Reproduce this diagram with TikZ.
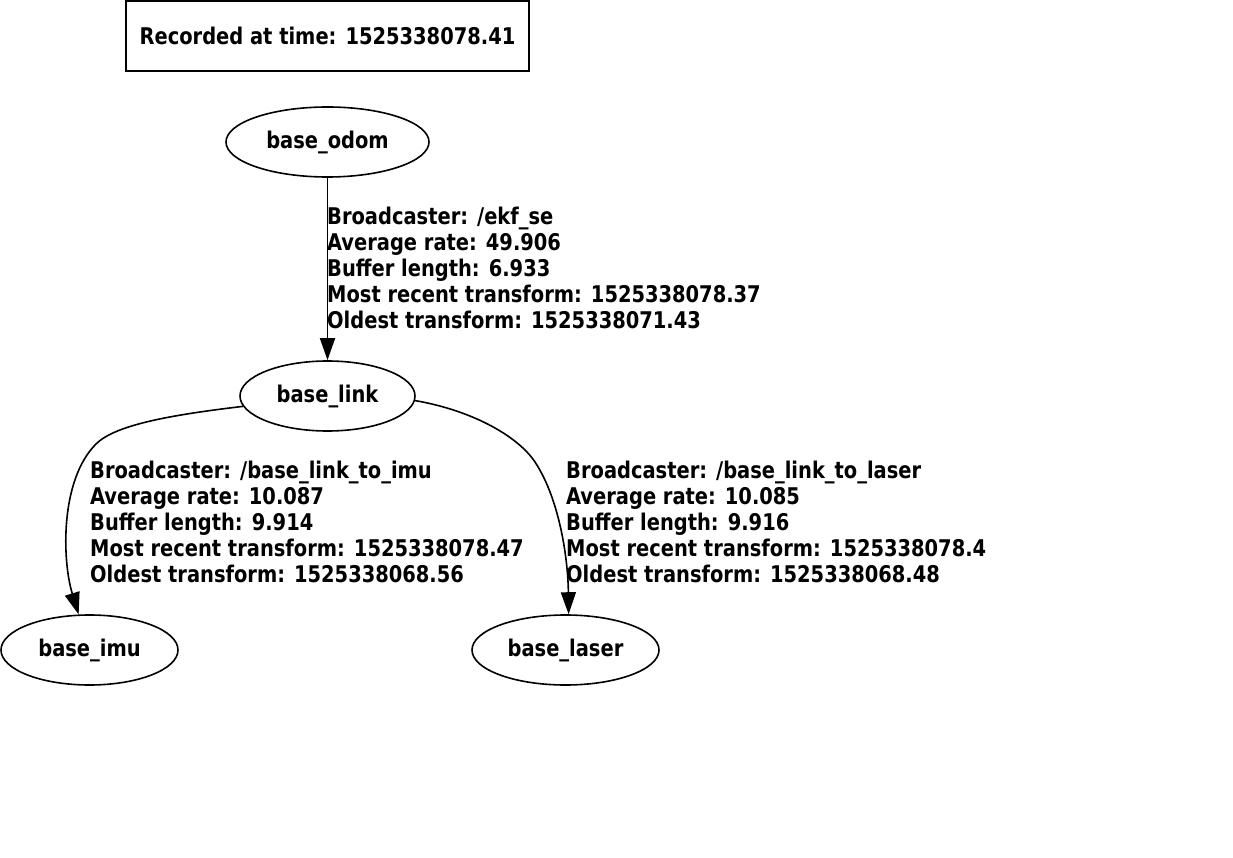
\documentclass[tikz,border=0pt]{standalone}
\usepackage{fontspec}
\setmainfont{DejaVu Sans Condensed Bold}[FakeStretch=0.94]
\usetikzlibrary{arrows.meta,shapes.geometric}
\begin{document}
\begin{tikzpicture}[x=1pt,y=-1pt,
  every node/.style={font=\fontsize{23}{26}\selectfont},
  frame/.style={draw,line width=1.6pt,rectangle,minimum width=403pt,minimum height=70pt,inner sep=0pt},
  tfnode/.style={draw,line width=1.6pt,ellipse,inner sep=0pt,minimum height=70pt},
  lbl/.style={align=left,inner sep=0pt,anchor=base west},
  edge/.style={line width=1.6pt,-{Triangle[length=22pt,width=15pt]}}]
\useasboundingbox (0,0) rectangle (1233,858);
\node[frame] (rec) at (327.5,36) {Recorded at time: 1525338078.41};
\node[tfnode,minimum width=203pt] (odom) at (327.5,142) {base\_odom};
\node[tfnode,minimum width=175pt] (link) at (327.5,396) {base\_link};
\node[tfnode,minimum width=177pt] (imu) at (89.5,650) {base\_imu};
\node[tfnode,minimum width=187pt] (laser) at (565.5,650) {base\_laser};
\draw[edge] (odom) -- (link);
\draw[edge] (link.187) .. controls (170,415) and (115,425) .. (96,444)
  .. controls (60,480) and (62,560) .. (imu.107);
\draw[edge] (link.-3) .. controls (470,410) and (517,435) .. (535,462)
  .. controls (560,500) and (568,560) .. (laser.85);
\node[lbl] (l1) at (327,328) {Broadcaster: /ekf\_se\\Average rate: 49.906\\Buffer length: 6.933\\Most recent transform: 1525338078.37\\Oldest transform: 1525338071.43};
\node[lbl] (l2) at (90,582) {Broadcaster: /base\_link\_to\_imu\\Average rate: 10.087\\Buffer length: 9.914\\Most recent transform: 1525338078.47\\Oldest transform: 1525338068.56};
\node[lbl] (l3) at (566,582) {Broadcaster: /base\_link\_to\_laser\\Average rate: 10.085\\Buffer length: 9.916\\Most recent transform: 1525338078.4\\Oldest transform: 1525338068.48};
\end{tikzpicture}
\end{document}
